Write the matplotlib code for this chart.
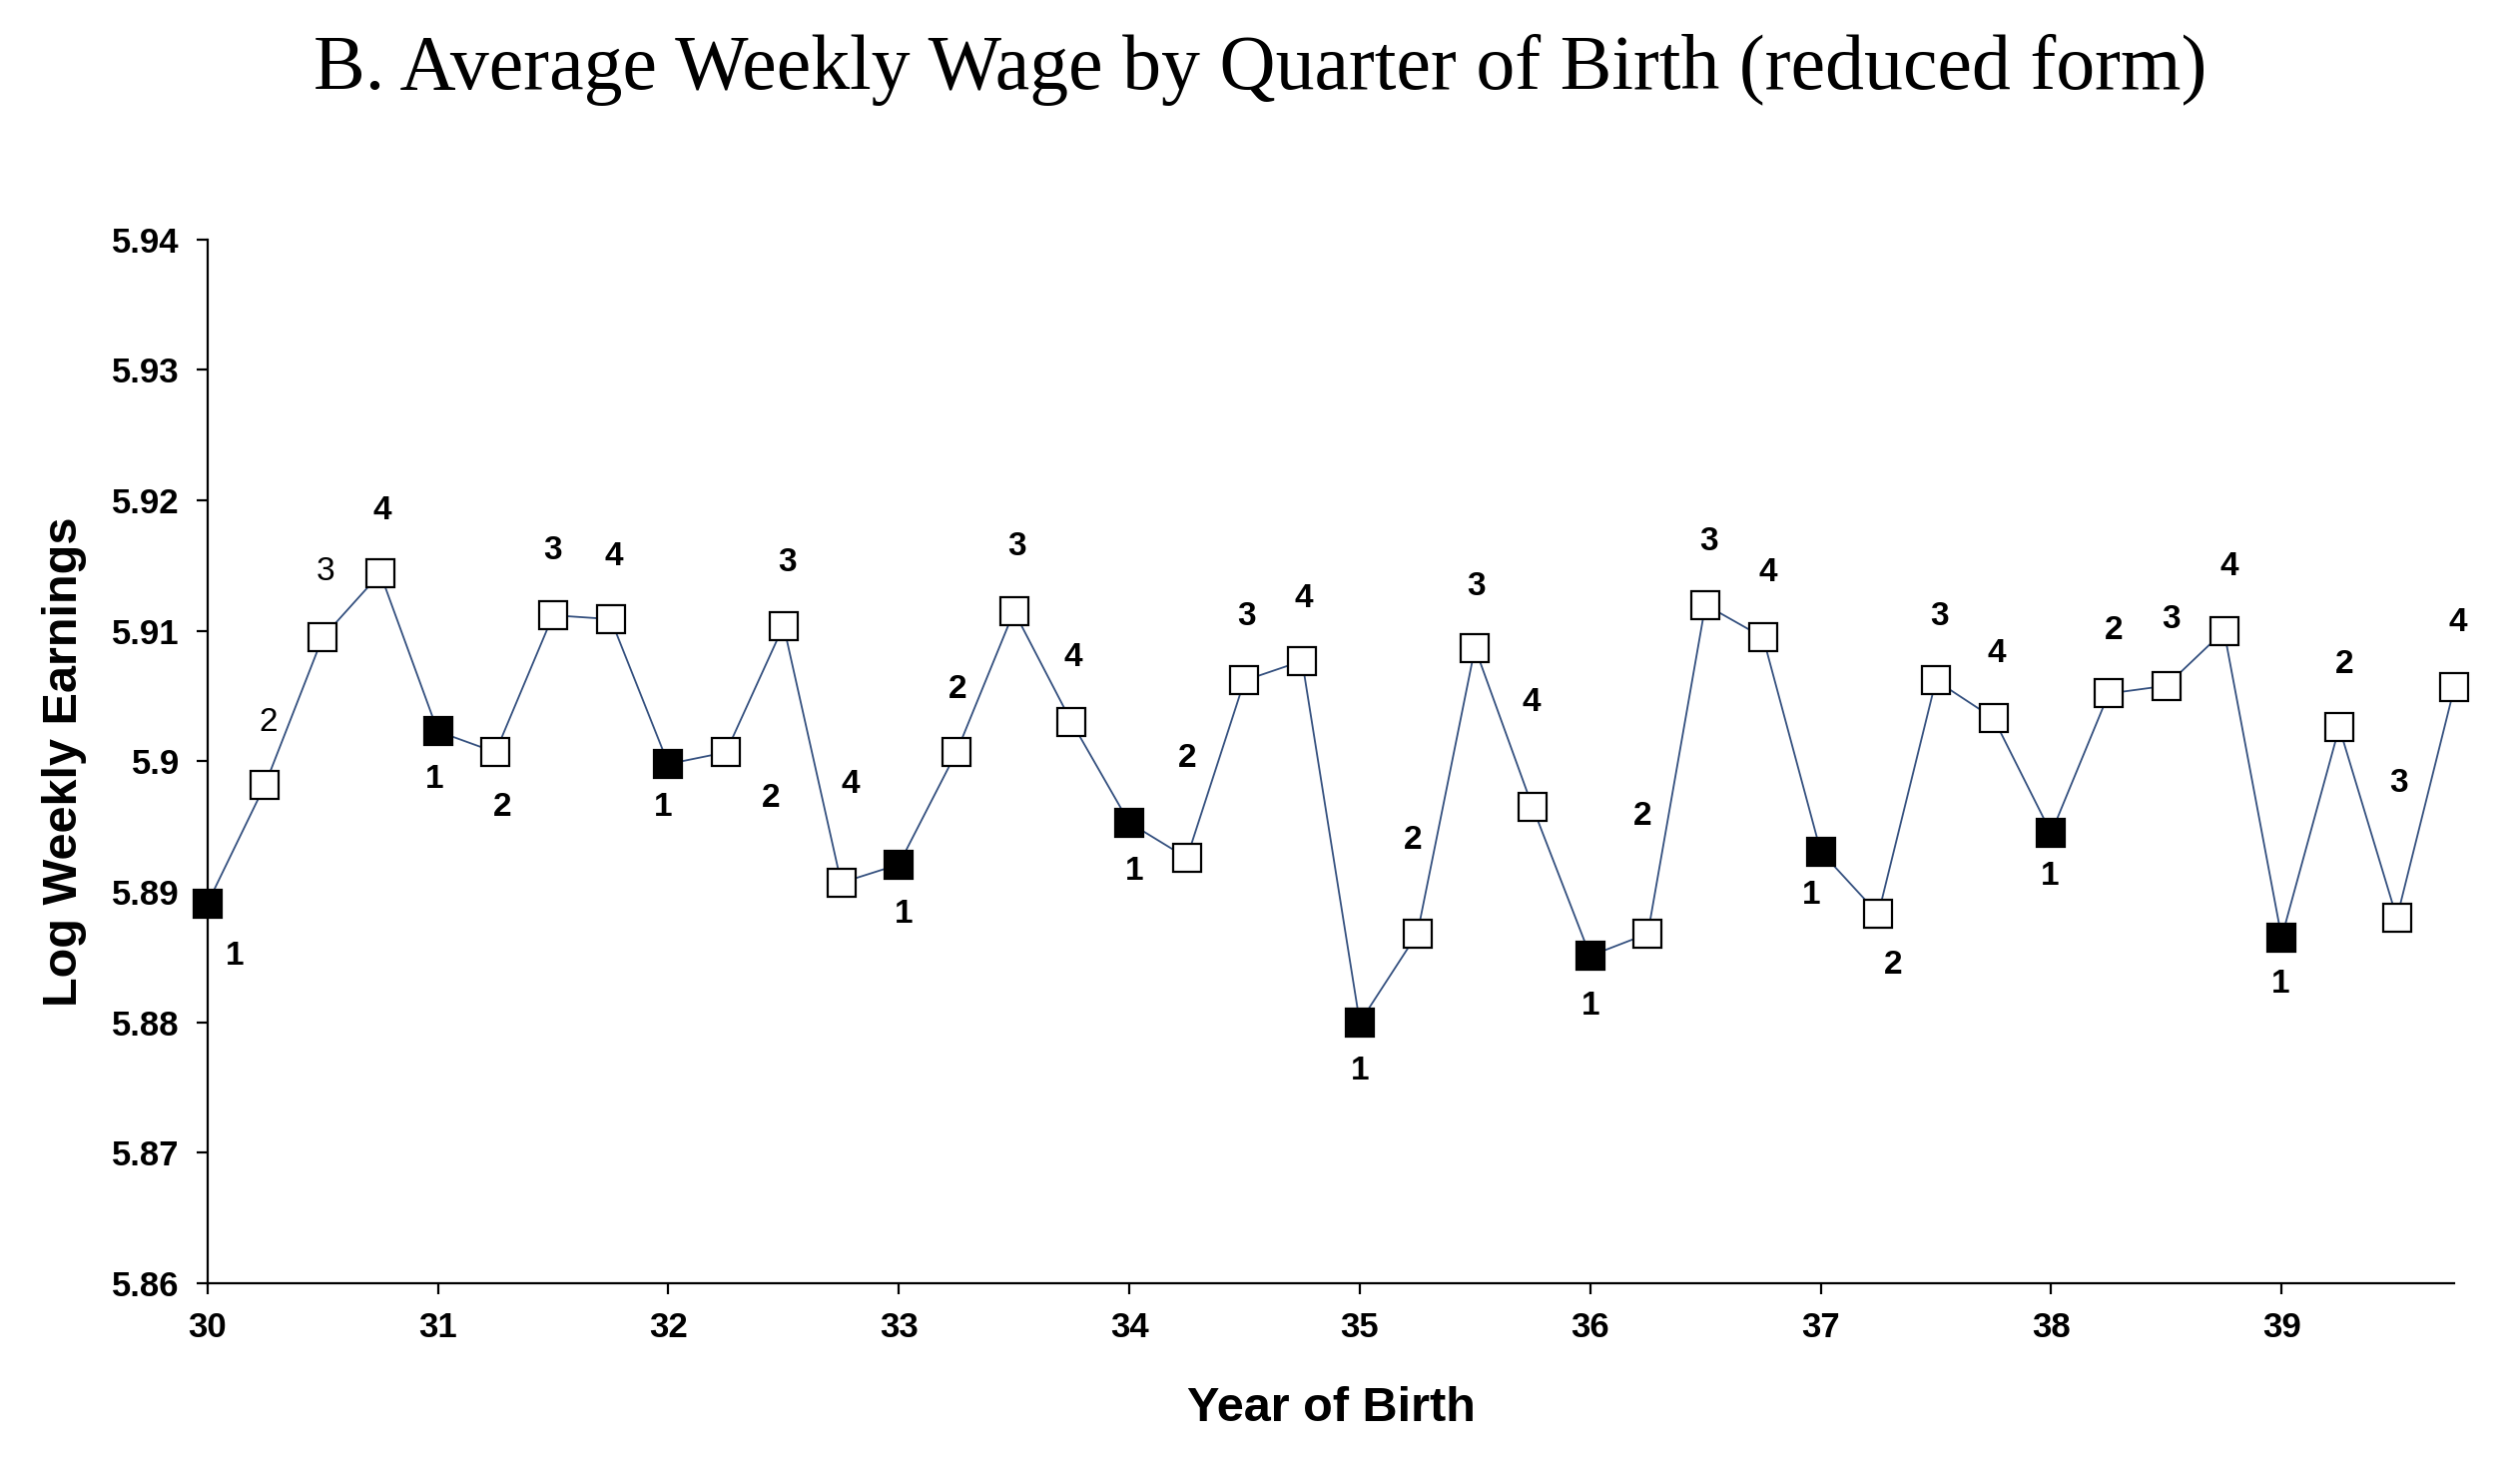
"""Average weekly wage by quarter of birth (reduced form)."""

import matplotlib
matplotlib.use("Agg")
import matplotlib.pyplot as plt
from matplotlib.ticker import FuncFormatter, MultipleLocator

# data: year of birth (quarterly), log weekly earnings, quarter labels
years = [30 + i * 0.25 for i in range(40)]
log_wage = [
    5.8891, 5.8982, 5.9095, 5.9144, 5.9023, 5.9007, 5.9112, 5.9109,
    5.8998, 5.9007, 5.9104, 5.8907, 5.8921, 5.9007, 5.9115, 5.9030,
    5.8953, 5.8926, 5.9062, 5.9077, 5.8800, 5.8868, 5.9087, 5.8965,
    5.8851, 5.8868, 5.9120, 5.9095, 5.8931, 5.8883, 5.9062, 5.9033,
    5.8945, 5.9052, 5.9058, 5.9100, 5.8865, 5.9026, 5.8880, 5.9057,
]
quarters = [1, 2, 3, 4] * 10

# label offsets (display px of reference, y down)
label_off = [
    (17, 33), (2, -39), (2, -41), (1, -39), (-2, 30), (4, 34), (0, -40), (2, -39),
    (-3, 27), (28, 29), (2, -39), (6, -61), (3, 31), (1, -39), (2, -40), (1, -40),
    (3, 30), (0, -62), (1, -40), (1, -39), (0, 30), (-3, -58), (1, -38), (-1, -65),
    (0, 31), (-3, -73), (2, -39), (3, -40), (-6, 27), (9, 32), (2, -40), (2, -40),
    (-1, 27), (3, -39), (3, -41), (3, -40), (-1, 29), (3, -39), (1, -84), (2, -40),
]
SCALE = 2524 / 1568

fig = plt.figure(figsize=(25.24, 14.62), dpi=100)
ax = fig.add_axes([0.0823, 0.121, 0.974 - 0.0823, 0.836 - 0.121])

ax.plot(years, log_wage, color="#34507f", lw=1.3, zorder=1, clip_on=False)
for x, y, q in zip(years, log_wage, quarters):
    face = "black" if q == 1 else "white"
    ax.plot(x, y, marker="s", ms=20, mfc=face, mec="black", mew=1.6,
            zorder=3, clip_on=False)

for i, (x, y, q) in enumerate(zip(years, log_wage, quarters)):
    dx, dy = label_off[i]
    weight = "normal" if i in (1, 2) else "bold"
    ax.annotate(str(q), (x, y), xytext=(dx * SCALE, -dy * SCALE),
                textcoords="offset pixels", ha="center", va="center",
                fontsize=24, fontweight=weight, family="Liberation Sans")

ax.set_xlim(30, 39.75)
ax.set_ylim(5.86, 5.94)
ax.xaxis.set_major_locator(MultipleLocator(1))
ax.yaxis.set_major_locator(MultipleLocator(0.01))
ax.yaxis.set_major_formatter(FuncFormatter(lambda v, _: f"{v:.2f}".rstrip("0")))
for s in ("top", "right"):
    ax.spines[s].set_visible(False)
for s in ("left", "bottom"):
    ax.spines[s].set_linewidth(1.6)
ax.tick_params(direction="out", length=8, width=1.6, labelsize=25, pad=12)
for lab in ax.get_xticklabels() + ax.get_yticklabels():
    lab.set_fontweight("bold")
    lab.set_family("Liberation Sans")

ax.set_xlabel("Year of Birth", fontsize=35, fontweight="bold",
              family="Liberation Sans", labelpad=30)
ax.set_ylabel("Log Weekly Earnings", fontsize=35, fontweight="bold",
              family="Liberation Sans", labelpad=18)
fig.text(0.5, 0.952, "B. Average Weekly Wage by Quarter of Birth (reduced form)",
         ha="center", va="center", fontsize=56, family="Liberation Serif")

fig.savefig("out.png", dpi=100)
